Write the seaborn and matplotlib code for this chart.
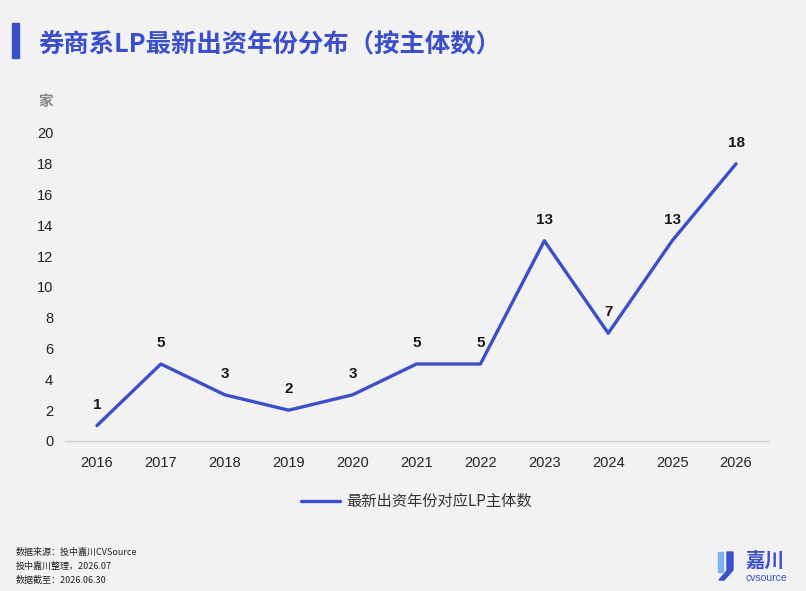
import numpy as np
import pandas as pd
import seaborn as sns
from matplotlib import pyplot as plt
from matplotlib.patches import Rectangle, Polygon

years = ['2016', '2017', '2018', '2019', '2020', '2021', '2022', '2023', '2024', '2025', '2026']
counts = [1, 5, 3, 2, 3, 5, 5, 13, 7, 13, 18]
series_name = '最新出资年份对应LP主体数'
title = '券商系LP最新出资年份分布（按主体数）'
notes = ['数据来源：投中嘉川CVSource', '投中嘉川整理，2026.07', '数据截至：2026.06.30']

blue = '#3b4fcc'
bg = '#f2f2f2'

sns.set_theme(style='white')
plt.rcParams['font.family'] = ['Liberation Sans', 'Noto Sans CJK SC', 'DejaVu Sans']
cjk = ['Noto Sans CJK SC', 'DejaVu Sans']

df = pd.DataFrame({'year': years, 'count': counts})
df['pos'] = np.arange(len(years))

fig = plt.figure(figsize=(8.06, 5.91), dpi=100, facecolor=bg)
ax = fig.add_axes([65 / 806, 1 - 441 / 591, (768 - 65) / 806, (441 - 133) / 591])
ax.set_facecolor(bg)

sns.lineplot(data=df, x='pos', y='count', color=blue, linewidth=2.4, ax=ax, label=series_name)

for p, c in zip(df['pos'], df['count']):
    ax.annotate(str(c), (p, c), xytext=(0, 10), textcoords='offset points',
                ha='center', va='bottom', fontsize=11, color='#1a1a1a', fontweight='bold')

ax.set_xlim(-0.5, 10.5)
ax.set_ylim(0, 20)
ax.set_xticks(df['pos'])
ax.set_xticklabels(years)
ax.set_yticks(range(0, 21, 2))
ax.tick_params(axis='both', length=0, labelsize=10.5, colors='#222222')
ax.tick_params(axis='x', pad=11)
ax.tick_params(axis='y', pad=8.5)
ax.set_xlabel('')
ax.set_ylabel('')
for s in ['top', 'right', 'left']:
    ax.spines[s].set_visible(False)
ax.spines['bottom'].set_color('#d0d0d0')
ax.spines['bottom'].set_linewidth(1)

fig.text(38 / 806, 1 - 101 / 591, '家', fontsize=10.5, color='#888888', fontweight='bold',
         ha='left', va='center', family=cjk)

leg = ax.legend(loc='upper center', bbox_to_anchor=(0.5, -0.125), frameon=False,
                prop={'family': cjk, 'size': 11}, handlelength=2.6, handletextpad=0.4)
for t in leg.get_texts():
    t.set_color('#333333')

# title bar and title
fig.patches.append(Rectangle((12 / 806, 1 - 58 / 591), 7 / 806, 35 / 591,
                             transform=fig.transFigure, color=blue))
fig.text(38 / 806, 1 - 45 / 591, title, fontsize=18.3, fontweight='bold', color=blue,
         ha='left', va='center', family=cjk)

for i, n in enumerate(notes):
    fig.text(16 / 806, 1 - (552 + 14 * i) / 591, n, fontsize=6.5, color='#222222',
             ha='left', va='center', family=cjk)

# logo
fig.patches.append(Polygon([(718 / 806, 1 - 552 / 591), (723 / 806, 1 - 552 / 591),
                            (723 / 806, 1 - 572 / 591), (718 / 806, 1 - 572 / 591)],
                           closed=True, transform=fig.transFigure, color='#7fb2f0'))
fig.patches.append(Polygon([(727 / 806, 1 - 552 / 591), (733 / 806, 1 - 552 / 591),
                            (733 / 806, 1 - 570 / 591), (724 / 806, 1 - 580 / 591),
                            (719 / 806, 1 - 580 / 591), (727 / 806, 1 - 571 / 591)],
                           closed=True, transform=fig.transFigure, color=blue))
fig.text(745 / 806, 1 - 561 / 591, '嘉川', fontsize=14, fontweight='bold', color=blue,
         ha='left', va='center', family=cjk)
fig.text(746 / 806, 1 - 578 / 591, 'cvsource', fontsize=7.5, color=blue,
         ha='left', va='center')

fig.savefig('out.png', dpi=100, facecolor=bg)
